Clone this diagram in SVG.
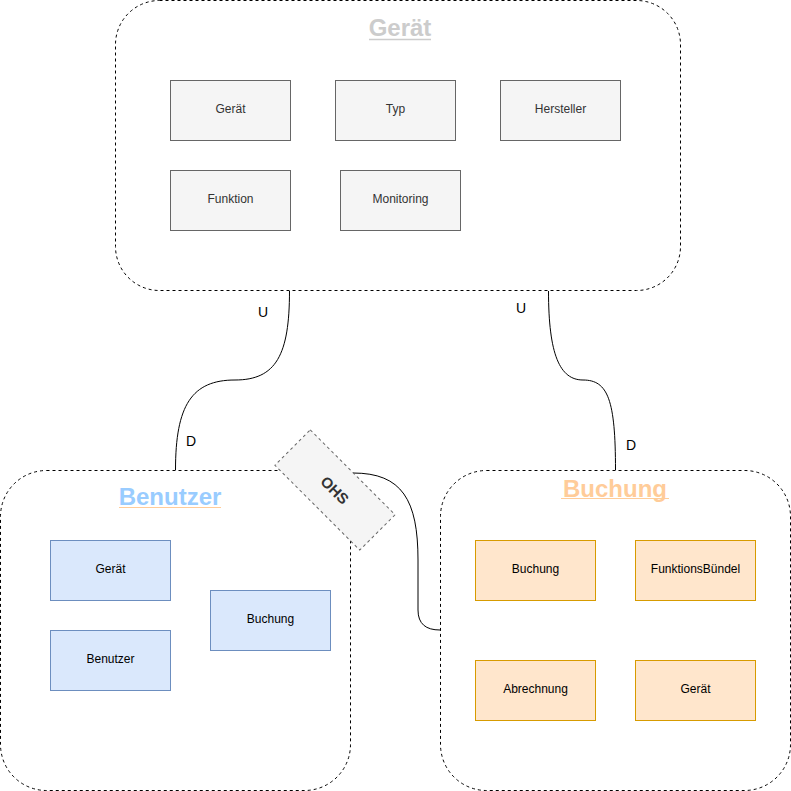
<svg xmlns="http://www.w3.org/2000/svg" width="791" height="791" viewBox="0 0 791 791">
<style>
.ctx{fill:#fff;stroke:#000;stroke-width:1;stroke-dasharray:3 3}
.g{fill:#f5f5f5;stroke:#666}
.b{fill:#dae8fc;stroke:#6c8ebf}
.o{fill:#ffe6cc;stroke:#d79b00}
.lbl{font-family:"Liberation Sans",Arial,sans-serif;font-size:12px;text-anchor:middle}
.title{font-family:"Liberation Sans",Arial,sans-serif;font-weight:bold;text-anchor:middle}
.conn{fill:none;stroke:#000;stroke-width:1}
.cl{font-family:"Liberation Sans",Arial,sans-serif;font-size:14px;fill:#000;text-anchor:middle}
</style>
<rect width="791" height="791" fill="#fff"/>
<g id="ctx-geraet">
<rect class="ctx" x="115.5" y="0.5" width="565" height="290" rx="44" ry="44"/>
<text class="title" x="400" y="36" font-size="24" fill="#cccccc">Gerät</text>
<line x1="369" y1="39.5" x2="431" y2="39.5" stroke="#cccccc" stroke-width="1.5"/>
</g>
<g id="g-geraet"><rect class="g" x="170.5" y="80.5" width="120" height="60"/><text class="lbl" x="230.5" y="113" fill="#333">Gerät</text></g>
<g id="g-typ"><rect class="g" x="335.5" y="80.5" width="120" height="60"/><text class="lbl" x="395.5" y="113" fill="#333">Typ</text></g>
<g id="g-hersteller"><rect class="g" x="500.5" y="80.5" width="120" height="60"/><text class="lbl" x="560.5" y="113" fill="#333">Hersteller</text></g>
<g id="g-funktion"><rect class="g" x="170.5" y="170.5" width="120" height="60"/><text class="lbl" x="230.5" y="203" fill="#333">Funktion</text></g>
<g id="g-monitoring"><rect class="g" x="340.5" y="170.5" width="120" height="60"/><text class="lbl" x="400.5" y="203" fill="#333">Monitoring</text></g>

<g id="ctx-benutzer">
<rect class="ctx" x="0.5" y="470.5" width="350" height="320" rx="46" ry="46"/>
<text class="title" x="170" y="505" font-size="24" fill="#99ccff">Benutzer</text>
<line x1="119" y1="507.5" x2="221" y2="507.5" stroke="#ffcc99" stroke-width="1.2"/>
</g>
<g id="b-geraet"><rect class="b" x="50.5" y="540.5" width="120" height="60"/><text class="lbl" x="110.5" y="573" fill="#000">Gerät</text></g>
<g id="b-benutzer"><rect class="b" x="50.5" y="630.5" width="120" height="60"/><text class="lbl" x="110.5" y="663" fill="#000">Benutzer</text></g>
<g id="b-buchung"><rect class="b" x="210.5" y="590.5" width="120" height="60"/><text class="lbl" x="270.5" y="623" fill="#000">Buchung</text></g>

<g id="ctx-buchung">
<rect class="ctx" x="440.5" y="470.5" width="350" height="320" rx="46" ry="46"/>
<text class="title" x="615" y="497" font-size="24" fill="#ffcc99">Buchung</text>
<line x1="561" y1="498.5" x2="669" y2="498.5" stroke="#ffcc99" stroke-width="1.2"/>
</g>
<g id="o-buchung"><rect class="o" x="475.5" y="540.5" width="120" height="60"/><text class="lbl" x="535.5" y="573" fill="#000">Buchung</text></g>
<g id="o-fb"><rect class="o" x="635.5" y="540.5" width="120" height="60"/><text class="lbl" x="695.5" y="573" fill="#000">FunktionsBündel</text></g>
<g id="o-abrechnung"><rect class="o" x="475.5" y="660.5" width="120" height="60"/><text class="lbl" x="535.5" y="693" fill="#000">Abrechnung</text></g>
<g id="o-geraet"><rect class="o" x="635.5" y="660.5" width="120" height="60"/><text class="lbl" x="695.5" y="693" fill="#000">Gerät</text></g>

<g id="connectors">
<path class="conn" d="M289.5 291 C289.5 355 276 380 235 380 C192 380 175.5 405 175.5 470"/>
<path class="conn" d="M548.5 291 C548.5 355 560 380 583 380 C608 380 615.5 400 615.5 470"/>
<path class="conn" d="M353 473 C402 473 418 500 418 560 L418 610 C418 624 426 630 440 630"/>
<text class="cl" x="263" y="317">U</text>
<text class="cl" x="191" y="446">D</text>
<text class="cl" x="521" y="313">U</text>
<text class="cl" x="631" y="450">D</text>
</g>

<g id="ohs" transform="translate(335 490) rotate(45)">
<rect x="-60" y="-25" width="120" height="50" fill="#f5f5f5" stroke="#666" stroke-dasharray="3 3"/>
<text x="0" y="5.5" font-family="Liberation Sans,Arial,sans-serif" font-size="15" font-weight="bold" fill="#333" text-anchor="middle">OHS</text>
</g>
</svg>
